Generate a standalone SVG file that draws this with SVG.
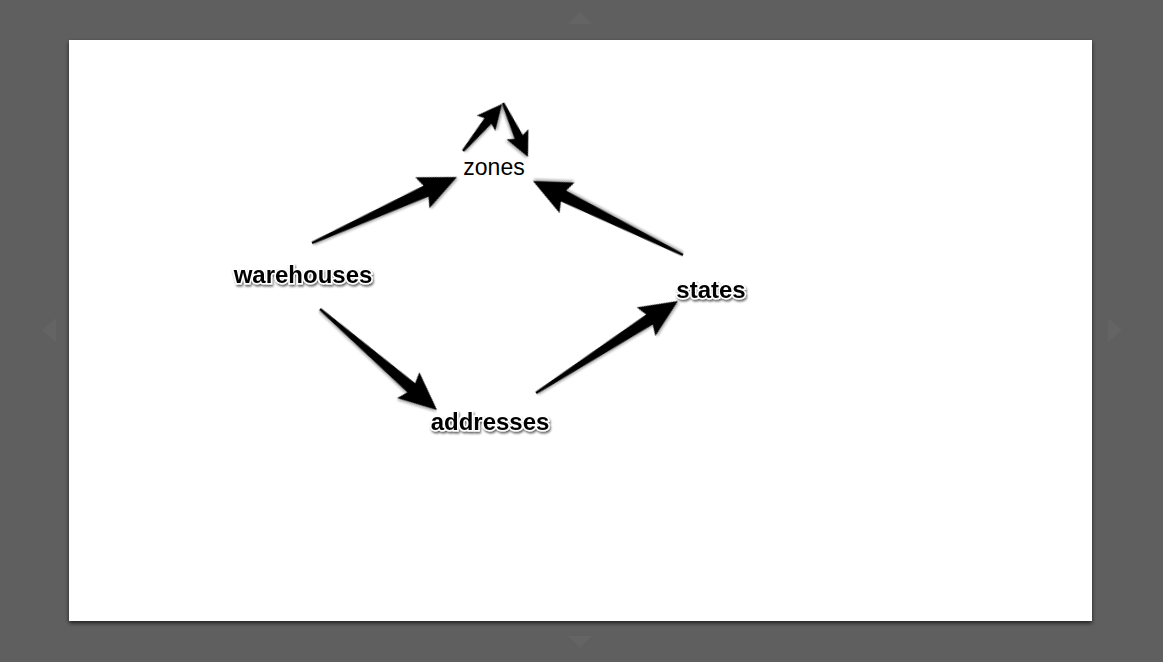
<svg xmlns="http://www.w3.org/2000/svg" width="1163" height="662" viewBox="0 0 1163 662">
<defs>
<style>
.lbl{font-family:"Liberation Sans",Arial,Helvetica,sans-serif;font-size:24px;font-weight:bold;fill:#000;stroke:#fff;stroke-width:3px;paint-order:stroke;text-anchor:middle;filter:url(#ts)}
.plain{font-family:"Liberation Sans",Arial,Helvetica,sans-serif;font-size:23px;fill:#000;text-anchor:middle}
.arr{fill:#000;filter:url(#as)}
.nav{fill:#646464}
</style>
<filter id="ts" x="-10%" y="-30%" width="120%" height="170%">
<feGaussianBlur in="SourceAlpha" stdDeviation="1.2"/>
<feOffset dx="1" dy="1.5" result="b"/>
<feComponentTransfer><feFuncA type="linear" slope="0.6"/></feComponentTransfer>
<feMerge><feMergeNode/><feMergeNode in="SourceGraphic"/></feMerge>
</filter>
<filter id="as" x="-20%" y="-20%" width="140%" height="140%">
<feGaussianBlur in="SourceAlpha" stdDeviation="1.2"/>
<feOffset dx="1" dy="2"/>
<feComponentTransfer><feFuncA type="linear" slope="0.3"/></feComponentTransfer>
<feMerge><feMergeNode/><feMergeNode in="SourceGraphic"/></feMerge>
</filter>
<filter id="ss" x="-5%" y="-5%" width="110%" height="112%">
<feGaussianBlur in="SourceAlpha" stdDeviation="2"/>
<feOffset dx="0" dy="2"/>
<feComponentTransfer><feFuncA type="linear" slope="0.7"/></feComponentTransfer>
<feMerge><feMergeNode/><feMergeNode in="SourceGraphic"/></feMerge>
</filter>
</defs>
<rect width="1163" height="662" fill="#5f5f5f"/>
<g id="nav">
<polygon class="nav" points="568,24 580,12 592,24"/>
<polygon class="nav" points="56,318 42,330 56,342"/>
<polygon class="nav" points="1108,318 1122,330 1108,342"/>
<polygon class="nav" points="568,636 580,648 592,636"/>
</g>
<rect id="slide" x="69" y="40" width="1023" height="581" fill="#fff" filter="url(#ss)"/>
<g id="connectors">
<path class="arr" transform="translate(312,243) rotate(-24.47)" d="M0,-1.2 L125.3,-6 L121.3,-17 L159.3,0 L121.3,17 L125.3,6 L0,1.2 Z"/>
<path class="arr" transform="translate(683,255) rotate(206.26)" d="M0,-1.2 L133.3,-6 L129.3,-17 L167.3,0 L129.3,17 L133.3,6 L0,1.2 Z"/>
<path class="arr" transform="translate(320,309) rotate(40.8)" d="M0,-1.2 L120.6,-6 L116.6,-17 L154.6,0 L116.6,17 L120.6,6 L0,1.2 Z"/>
<path class="arr" transform="translate(536,393) rotate(-32.94)" d="M0,-1.2 L135.2,-6 L131.2,-17 L169.2,0 L131.2,17 L135.2,6 L0,1.2 Z"/>
<path class="arr" transform="translate(463,151) rotate(-50.31)" d="M0,-1.3 L39.1,-4.5 L36.1,-12 L61.1,0 L36.1,12 L39.1,4.5 L0,1.3 Z"/>
<path class="arr" transform="translate(503,103) rotate(65.16)" d="M0,-1.3 L37.5,-4.5 L34.5,-12 L59.5,0 L34.5,12 L37.5,4.5 L0,1.3 Z"/>
</g>
<g id="zones"><text class="plain" x="494" y="175">zones</text></g>
<g id="warehouses"><text class="lbl" x="303" y="283">warehouses</text></g>
<g id="addresses"><text class="lbl" x="490" y="430">addresses</text></g>
<g id="states"><text class="lbl" x="711" y="298">states</text></g>
</svg>
